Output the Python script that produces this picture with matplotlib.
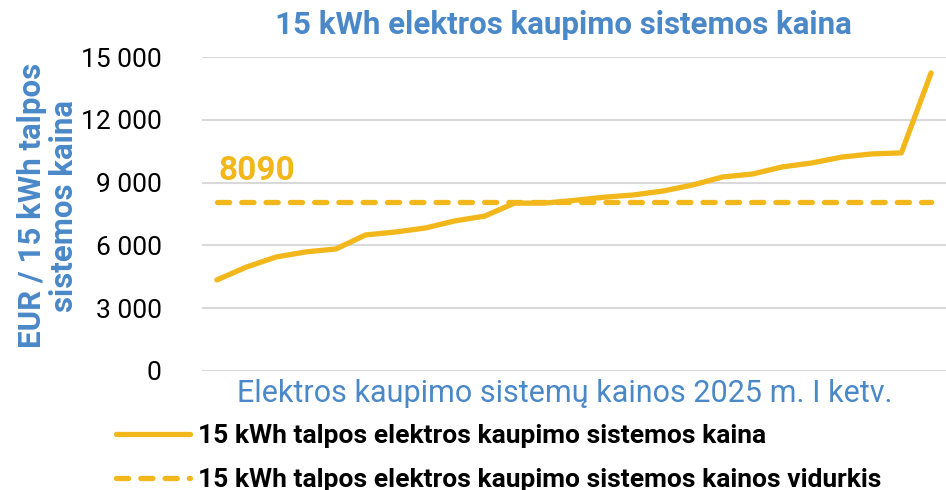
import numpy as np
import matplotlib.pyplot as plt

# values, sorted low to high (EUR)
prices = [4350, 4970, 5450, 5690, 5830, 6500, 6640, 6830, 7170, 7400,
          8020, 8020, 8150, 8300, 8410, 8600, 8890, 9270, 9410, 9750,
          9940, 10220, 10370, 10420, 14240]
mean_price = 8090
y_ticks = [0, 3000, 6000, 9000, 12000, 15000]

title = '15 kWh elektros kaupimo sistemos kaina'
x_label = 'Elektros kaupimo sistemų kainos 2025 m. I ketv.'
y_label = 'EUR / 15 kWh talpos\nsistemos kaina'
label_line = '15 kWh talpos elektros kaupimo sistemos kaina'
label_mean = '15 kWh talpos elektros kaupimo sistemos kainos vidurkis'

gold = '#F2B71B'
blue = '#4A88C8'

plt.rcParams['font.family'] = ['Roboto', 'DejaVu Sans']

fig = plt.figure(figsize=(9.46, 4.90), dpi=100)
ax = fig.add_axes([202 / 946, 1 - 371 / 490, 744 / 946, 314 / 490])

x = np.arange(len(prices))
ax.plot(x, prices, color=gold, lw=3.8, solid_capstyle='round',
        solid_joinstyle='round', label=label_line, zorder=3)
ax.plot(x, [mean_price] * len(prices), color=gold, lw=3.8,
        linestyle=(0, (2.3, 2.3)), dash_capstyle='round',
        label=label_mean, zorder=3)

ax.text(0.05, mean_price + 1460, str(mean_price), color=gold,
        fontsize=24, fontweight='bold', ha='left', va='center')

ax.set_xlim(-0.5, len(prices) - 0.5)
ax.set_ylim(0, 15000)
ax.set_yticks(y_ticks)
ax.set_yticklabels([f'{v:,}'.replace(',', ' ') for v in y_ticks], fontsize=19)
ax.set_xticks([])
ax.tick_params(axis='y', length=0, pad=29)
ax.grid(axis='y', color='#D9D9D9', lw=1.5)
ax.set_axisbelow(True)
for s in ax.spines.values():
    s.set_visible(False)

fig.text(563 / 946, 1 - 25 / 490, title, color=blue, fontsize=22.5,
         fontweight='bold', ha='center', va='center')
fig.text(565 / 946, 1 - 393 / 490, x_label, color=blue, fontsize=22,
         ha='center', va='center')
fig.text(48 / 946, 0.58, y_label, color=blue, fontsize=22.5, fontweight='bold',
         rotation=90, ha='center', va='center', multialignment='center',
         linespacing=1.05)

leg = fig.legend(loc='upper left', bbox_to_anchor=(116 / 946, 1 - 424 / 490),
                 frameon=False, borderpad=0, borderaxespad=0,
                 handlelength=2.8, handletextpad=0.3, labelspacing=0.75,
                 prop={'size': 19, 'weight': 'bold'})

fig.savefig('out.png', dpi=100)
